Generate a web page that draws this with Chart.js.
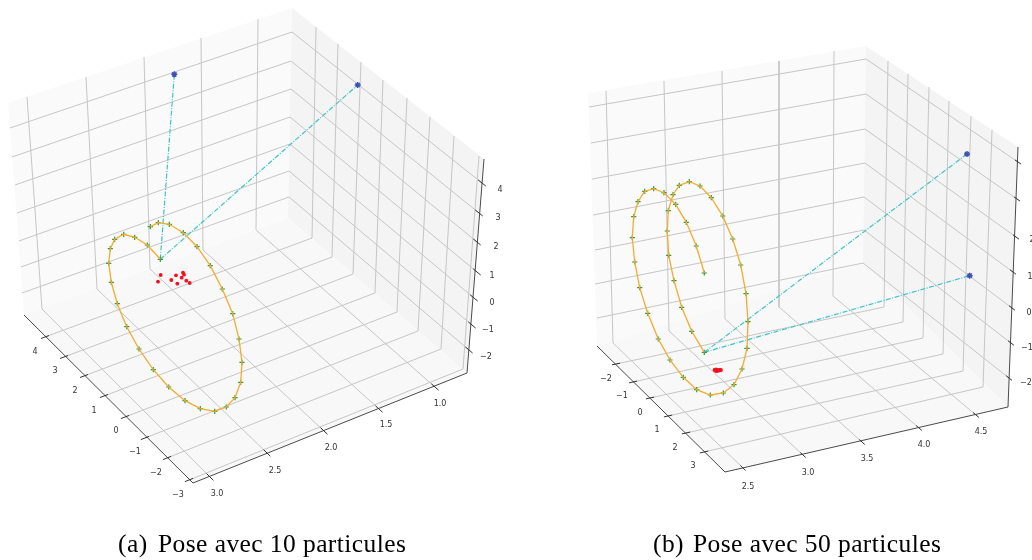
<!DOCTYPE html>
<html>
<head>
<meta charset="utf-8">
<script src="https://cdn.jsdelivr.net/npm/chart.js@4"></script>
<style>
  html, body { margin: 0; padding: 0; background: #fff; }
  canvas { display: block; filter: blur(0.35px); }
</style>
</head>
<body>
<canvas id="chart" width="1032" height="560"></canvas>
<script>
// both panels are read off the picture, in the plane of the page
// --- panel a ---
const aFloor = [[24,193,467,288],[315,483,373,218]];
const aLeftWall = [[8,292,288,24],[103,8,218,315]];
const aRightWall = [[292,484,467,288],[8,159,373,218]];

const aZEdgeX = [10,12,15,17,19,21,22];
const aZEdgeY = [128,157,185,213,241,267,293];
const aZBackX = [292,291,291,290,290,289,289];
const aZBackY = [32,61,89,117,144,171,197];
const aZTickX = [482,479,477,477,474,472,469];
const aZTickY = [183,213,242,272,298,325,350];
const aZLabels = ['4','3','2','1','0','\u22121','\u22122'];
const aZLabelX = [500,498,496,492,492,488,486];
const aZLabelY = [190,218,247,276,303,330,357];

const aXTopX = [27,86,144,201,258];
const aXTopY = [97,77,57,38,19];
const aXBaseX = [42,97,150,203,256];
const aXBaseY = [309,289,269,250,230];
const aXTickX = [210,267,324,379,435];
const aXTickY = [477,453,431,409,387];
const aXLabels = ['3.0','2.5','2.0','1.5','1.0'];
const aXLabelX = [217,275,331,386,440];
const aXLabelY = [494,471,448,425,404];

const aYTickX = [45,64,84,104,125,145,167,189];
const aYTickY = [337,357,376,396,417,438,458,480];
const aYBaseX = [312,332,353,375,397,418,441,463];
const aYBaseY = [238,257,274,293,312,331,349,369];
const aYTopX = [316,338,361,383,407,430,454,479];
const aYTopY = [27,44,62,80,98,117,136,156];
const aYLabels = ['4','3','2','1','0','\u22121','\u22122','\u22123'];
const aYLabelX = [35,55,75,94,116,135,156,178];
const aYLabelY = [352,371,391,411,431,452,473,495];

const aHelixX = [160.3,147.3,134.7,123.7,114.7,110.3,108.7,111.3,117.3,126.7,139,153.3,168.7,185,200.3,214.7,226.3,235,240.7,242,239,232.7,222.3,210.3,197,183.3,169.3,158.3,150.3];
const aHelixY = [259.3,245,237.3,234.3,239.3,248.7,263.3,282.3,303.7,326.7,349,369.7,387,400.7,408.7,411.3,407,397.7,382.3,362.3,339,313.7,289,265.7,246.7,232.7,224.3,222.7,226.7];
const aParticleX = [160.7,158,171.3,176,177.3,181.7,183,184,186.3,189.7];
const aParticleY = [275,281.7,280,275.3,283.7,277.7,272.7,274.7,280.7,283];
const aStarX = [174.3,357.7];
const aStarY = [74.3,85];

// --- panel b ---
const bFloor = [[597,725,1008,863],[346,472,407,263]];
const bLeftWall = [[588,866,863,597],[93,46,263,346]];
const bRightWall = [[866,1018,1008,863],[46,147,407,263]];

const bZEdgeX = [589,591,592,593,595,595,597];
const bZEdgeY = [107,143,179,215,250,284,318];
const bZBackX = [866,866,865,865,864,864,863];
const bZBackY = [59,94,129,163,197,230,263];
const bZTickX = [1018,1017,1016,1013,1012,1011,1009];
const bZTickY = [162,199,237,272,308,343,378];
const bZLabels = ['2','1','0','\u22121','\u22122'];
const bZLabelX = [1032,1030,1029,1027,1026];
const bZLabelY = [240,277,313,348,383];

const bXTopX = [606,664,722,779,834];
const bXTopY = [91,81,71,61,51];
const bXBaseX = [613,669,725,779,833];
const bXBaseY = [343,331,319,307,296];
const bXTickX = [743,803,862,919,976];
const bXTickY = [468,455,442,428,415];
const bXLabels = ['2.5','3.0','3.5','4.0','4.5'];
const bXLabelX = [748,808,867,924,981];
const bXLabelY = [487,473,459,445,432];

const bYTickX = [616,633,650,668,686,704];
const bYTickY = [364,382,398,416,433,452];
const bYBaseX = [884,903,923,943,963,983];
const bYBaseY = [307,322,338,354,371,387];
const bYTopX = [888,908,929,949,971,992];
const bYTopY = [61,74,87,101,116,130];
const bYLabels = ['\u22122','\u22121','0','1','2','3'];
const bYLabelX = [606,622,640,657,675,693];
const bYLabelY = [379,396,413,430,448,466];

const bHelixX = [704.3,691.7,681.7,674,668.7,667.3,668.3,673,679.3,689.3,700,711.3,722.7,732.7,740.7,746,748,747,742,734,723.3,710.3,696.7,683.3,670,658.3,647.7,639.7,634.7,632.3,633.7,638,644.7,653.7,664,675.7,686.3,696.3,704.3];
const bHelixY = [352.3,331.3,307.3,280.7,255.3,231,210.7,194.7,185.3,181.7,186,197.7,216,239,265,293.7,321.7,348.3,369,384.7,393,395,389.7,377.3,360,339,313.3,287.7,262,237.7,216.7,201.7,191.3,188.7,192.7,204.3,222.3,246,273];
const bParticleX = [714.5,716,717,718,719,720,721,716];
const bParticleY = [370,369.5,371,370,370.5,370,370,371];
const bStarX = [967,969.7];
const bStarY = [154,275.7];

const captionTags = ['(a)','(b)'];
const captionTexts = ['Pose avec 10 particules','Pose avec 50 particules'];
const captionTagX = [118,653];
const captionTextX = [158,693];

const grid = '#c6c6c6', axisDark = '#4a4a4a';
const datasets = [];
function add(xs, ys, opts) {
  const d = Object.assign({
    data: xs.map((x, i) => ({x: x, y: ys[i]})),
    showLine: true, pointRadius: 0, borderWidth: 1, tension: 0, fill: false
  }, opts);
  d.order = 5000 - datasets.length;
  datasets.push(d);
}
function pane(p, color) {
  add(p[0].concat(p[0][0]), p[1].concat(p[1][0]), {borderColor: color, backgroundColor: color, fill: 'shape', borderWidth: 0});
}
// tick mark sits across the axis, along its own grid line
function tick(x0, y0, x1, y1, f) {
  add([x0 - (x1 - x0) * f, x0 + (x1 - x0) * f], [y0 - (y1 - y0) * f, y0 + (y1 - y0) * f], {borderColor: '#333'});
}

function panel(o) {
  pane(o.leftWall, '#fafafa');
  pane(o.rightWall, '#f4f4f4');
  pane(o.floor, '#f8f8f8');
  o.zEdgeX.forEach((x, i) => {
    add([x, o.zBackX[i], o.zTickX[i]], [o.zEdgeY[i], o.zBackY[i], o.zTickY[i]], {borderColor: grid});
  });
  o.xTopX.forEach((x, i) => {
    add([x, o.xBaseX[i], o.xTickX[i]], [o.xTopY[i], o.xBaseY[i], o.xTickY[i]], {borderColor: grid});
  });
  o.yTickX.forEach((x, i) => {
    add([x, o.yBaseX[i], o.yTopX[i]], [o.yTickY[i], o.yBaseY[i], o.yTopY[i]], {borderColor: grid});
  });
  const f = o.floor, r = o.rightWall;
  add([f[0][0], f[0][1], f[0][2], r[0][1]], [f[1][0], f[1][1], f[1][2], r[1][1]], {borderColor: axisDark});
  o.zTickX.forEach((x, i) => tick(x, o.zTickY[i], o.zBackX[i], o.zBackY[i], 0.02));
  o.xTickX.forEach((x, i) => tick(x, o.xTickY[i], o.xBaseX[i], o.xBaseY[i], 0.02));
  o.yTickX.forEach((x, i) => tick(x, o.yTickY[i], o.yBaseX[i], o.yBaseY[i], 0.015));

  // rays from the pose to the two landmarks
  o.starX.forEach((x, i) => {
    add([o.helixX[0], x], [o.helixY[0], o.starY[i]], {borderColor: '#3cc4cc', borderWidth: 1.2, borderDash: [5, 1.5, 1, 1.5]});
  });
  add(o.helixX, o.helixY, {showLine: false, pointStyle: 'cross', pointRadius: 2.6, pointBorderColor: '#2f9a3a', pointBorderWidth: 1.2});
  add(o.helixX, o.helixY, {borderColor: '#f6ab2e', borderWidth: 1.3});
  add(o.particleX, o.particleY, {showLine: false, pointStyle: 'circle', pointRadius: 1.9, pointBackgroundColor: '#f4101f', pointBorderColor: '#f4101f', pointBorderWidth: 0});
  add(o.starX, o.starY, {showLine: false, pointStyle: 'star', pointRadius: 3, pointBorderColor: '#3a50b4', pointBorderWidth: 1.4});
}

panel({floor: aFloor, leftWall: aLeftWall, rightWall: aRightWall,
  zEdgeX: aZEdgeX, zEdgeY: aZEdgeY, zBackX: aZBackX, zBackY: aZBackY, zTickX: aZTickX, zTickY: aZTickY,
  xTopX: aXTopX, xTopY: aXTopY, xBaseX: aXBaseX, xBaseY: aXBaseY, xTickX: aXTickX, xTickY: aXTickY,
  yTickX: aYTickX, yTickY: aYTickY, yBaseX: aYBaseX, yBaseY: aYBaseY, yTopX: aYTopX, yTopY: aYTopY,
  helixX: aHelixX, helixY: aHelixY, particleX: aParticleX, particleY: aParticleY, starX: aStarX, starY: aStarY});
panel({floor: bFloor, leftWall: bLeftWall, rightWall: bRightWall,
  zEdgeX: bZEdgeX, zEdgeY: bZEdgeY, zBackX: bZBackX, zBackY: bZBackY, zTickX: bZTickX, zTickY: bZTickY,
  xTopX: bXTopX, xTopY: bXTopY, xBaseX: bXBaseX, xBaseY: bXBaseY, xTickX: bXTickX, xTickY: bXTickY,
  yTickX: bYTickX, yTickY: bYTickY, yBaseX: bYBaseX, yBaseY: bYBaseY, yTopX: bYTopX, yTopY: bYTopY,
  helixX: bHelixX, helixY: bHelixY, particleX: bParticleX, particleY: bParticleY, starX: bStarX, starY: bStarY});

const labelSets = [
  [aZLabels, aZLabelX, aZLabelY], [aXLabels, aXLabelX, aXLabelY], [aYLabels, aYLabelX, aYLabelY],
  [bZLabels, bZLabelX, bZLabelY], [bXLabels, bXLabelX, bXLabelY], [bYLabels, bYLabelX, bYLabelY]
];

const textPlugin = {
  id: 'textLabels',
  afterDatasetsDraw(chart) {
    const ctx = chart.ctx, sx = chart.scales.x, sy = chart.scales.y;
    ctx.save();
    ctx.font = '8px "DejaVu Sans"';
    ctx.fillStyle = '#333';
    ctx.textAlign = 'center';
    ctx.textBaseline = 'middle';
    labelSets.forEach(s => s[0].forEach((t, i) => {
      ctx.fillText(t, sx.getPixelForValue(s[1][i]), sy.getPixelForValue(s[2][i]));
    }));
    ctx.font = '25.5px "Liberation Serif"';
    ctx.letterSpacing = '0.42px';
    ctx.fillStyle = '#000';
    ctx.textAlign = 'left';
    ctx.textBaseline = 'alphabetic';
    captionTags.forEach((t, i) => {
      ctx.fillText(t, sx.getPixelForValue(captionTagX[i]), sy.getPixelForValue(552));
      ctx.fillText(captionTexts[i], sx.getPixelForValue(captionTextX[i]), sy.getPixelForValue(552));
    });
    ctx.restore();
  }
};

new Chart(document.getElementById('chart'), {
  type: 'scatter',
  data: {datasets: datasets},
  plugins: [textPlugin],
  options: {
    responsive: false,
    animation: false,
    events: [],
    layout: {autoPadding: false, padding: 0},
    plugins: {legend: {display: false}, tooltip: {enabled: false}, title: {display: false}},
    scales: {
      x: {type: 'linear', min: 0, max: 1032, display: false},
      y: {type: 'linear', min: 0, max: 560, reverse: true, display: false}
    }
  }
});
</script>
</body>
</html>
